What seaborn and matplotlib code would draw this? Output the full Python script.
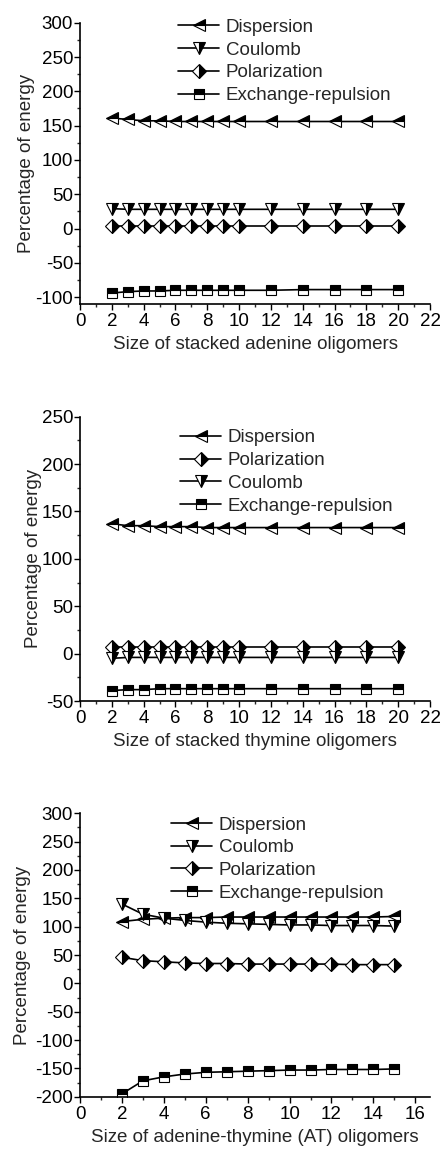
import numpy as np
import pandas as pd
import matplotlib
matplotlib.use("Agg")
import matplotlib.pyplot as plt
from matplotlib.ticker import MultipleLocator
import seaborn as sns

sns.set_theme(style="ticks")
plt.rcParams['font.family'] = ['Liberation Sans', 'DejaVu Sans']
plt.rcParams['axes.unicode_minus'] = False

# ---- data ----
x_ade = [2, 3, 4, 5, 6, 7, 8, 9, 10, 12, 14, 16, 18, 20]
ade_dispersion = [161, 159, 157, 157, 156, 156, 156, 156, 156, 156, 156, 156, 156, 156]
ade_coulomb = [29, 28, 28, 28, 28, 28, 28, 28, 28, 28, 28, 28, 28, 28]
ade_polarization = [3, 3, 3, 3, 3, 3, 3, 3, 3, 3, 3, 3, 3, 3]
ade_exchange = [-94, -92, -91, -91, -90, -90, -90, -90, -90, -90, -89, -89, -89, -89]

x_thy = [2, 3, 4, 5, 6, 7, 8, 9, 10, 12, 14, 16, 18, 20]
thy_dispersion = [137, 135, 135, 134, 134, 134, 133, 133, 133, 133, 133, 133, 133, 133]
thy_polarization = [7, 7, 7, 7, 7, 7, 7, 7, 7, 7, 7, 7, 7, 7]
thy_coulomb = [-5, -4, -4, -4, -4, -4, -4, -4, -4, -4, -4, -4, -4, -4]
thy_exchange = [-39, -38, -38, -37, -37, -37, -37, -37, -37, -37, -37, -37, -37, -37]

x_at = [2, 3, 4, 5, 6, 7, 8, 9, 10, 11, 12, 13, 14, 15]
at_dispersion = [109, 113, 115, 116, 116, 117, 117, 117, 117, 117, 117, 117, 117, 118]
at_coulomb = [140, 122, 115, 111, 108, 106, 105, 104, 103, 103, 102, 102, 102, 101]
at_polarization = [46, 40, 38, 36, 35, 35, 34, 34, 34, 34, 34, 33, 33, 33]
at_exchange = [-195, -172, -165, -160, -157, -156, -155, -154, -153, -153, -152, -152, -152, -151]

styles = {
    'Dispersion': dict(marker='<', fillstyle='top', markersize=8.5),
    'Coulomb': dict(marker='v', fillstyle='right', markersize=8.5),
    'Polarization': dict(marker='D', fillstyle='right', markersize=7.5),
    'Exchange-repulsion': dict(marker='s', fillstyle='top', markersize=7),
}

FS = 13.5
fig = plt.figure(figsize=(4.44, 11.49), dpi=100)
L, W = 80 / 444, 350 / 444
H = 1149.0

def make_ax(top_px, bottom_px):
    return fig.add_axes([L, 1 - bottom_px / H, W, (bottom_px - top_px) / H])

panels = [
    dict(top=22.7, bottom=304, x=x_ade,
         series=[('Dispersion', ade_dispersion), ('Coulomb', ade_coulomb),
                 ('Polarization', ade_polarization), ('Exchange-repulsion', ade_exchange)],
         ylim=(-110, 300), xlim=(0, 22), ylpad=0,
         xlabel='Size of stacked adenine oligomers', leg=(0.28, 1.014)),
    dict(top=416.7, bottom=701, x=x_thy,
         series=[('Dispersion', thy_dispersion), ('Polarization', thy_polarization),
                 ('Coulomb', thy_coulomb), ('Exchange-repulsion', thy_exchange)],
         ylim=(-50, 250), xlim=(0, 22), ylpad=0,
         xlabel='Size of stacked thymine oligomers', leg=(0.286, 0.956)),
    dict(top=813.3, bottom=1096.7, x=x_at,
         series=[('Dispersion', at_dispersion), ('Coulomb', at_coulomb),
                 ('Polarization', at_polarization), ('Exchange-repulsion', at_exchange)],
         ylim=(-200, 300), xlim=(0, 16.7), ylpad=3,
         xlabel='Size of adenine-thymine (AT) oligomers', leg=(0.26, 0.989)),
]

for p in panels:
    ax = make_ax(p['top'], p['bottom'])
    for name, vals in p['series']:
        df = pd.DataFrame({'x': p['x'], 'y': vals})
        st = dict(styles[name])
        ms = st.pop('markersize')
        sns.lineplot(data=df, x='x', y='y', ax=ax, color='black', lw=1.2,
                     markersize=ms, markeredgewidth=0.8, markeredgecolor='black',
                     markerfacecolor='black', markerfacecoloralt='white',
                     label=name, **st)
    ax.set_xlim(*p['xlim'])
    ax.set_ylim(*p['ylim'])
    ax.xaxis.set_major_locator(MultipleLocator(2))
    ax.xaxis.set_minor_locator(MultipleLocator(1))
    ax.yaxis.set_major_locator(MultipleLocator(50))
    ax.yaxis.set_minor_locator(MultipleLocator(25))
    ax.tick_params(which='major', direction='out', length=4, width=1.0,
                   labelsize=FS, pad=1, colors='black')
    ax.tick_params(axis='x', which='major', pad=2.5)
    ax.tick_params(which='minor', direction='out', length=2.5, width=1.0)
    sns.despine(ax=ax)
    for s in ['left', 'bottom']:
        ax.spines[s].set_linewidth(1.2)
        ax.spines[s].set_color('black')
    ax.set_xlabel(p['xlabel'], fontsize=FS, labelpad=4.5)
    ax.set_ylabel('Percentage of energy', fontsize=FS, labelpad=p['ylpad'])
    ax.legend(loc='upper left', bbox_to_anchor=p['leg'], frameon=False,
              fontsize=FS, handlelength=2.2, handletextpad=0.35,
              labelspacing=0.3, borderaxespad=0, borderpad=0)

fig.savefig('out.png', dpi=100)
